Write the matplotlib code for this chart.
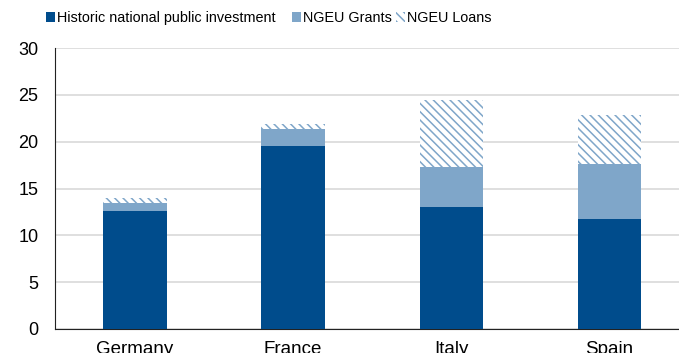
import matplotlib
matplotlib.use("Agg")
import matplotlib.pyplot as plt
from matplotlib.patches import Patch

plt.rcParams['font.family'] = ['Liberation Sans', 'DejaVu Sans']
plt.rcParams['hatch.linewidth'] = 1.1

countries = ['Germany', 'France', 'Italy', 'Spain']
historic = [12.6, 19.5, 13.0, 11.7]
grants = [0.9, 1.8, 4.3, 5.9]
loans = [0.5, 0.6, 7.1, 5.3]

dark = '#004c8c'
light = '#7fa6c9'
hatch = '\\' * 4

fig = plt.figure(figsize=(6.79, 3.53), dpi=100)
ax = fig.add_axes([0.081, 0.068, 0.919, 0.796])

x = range(len(countries))
w = 0.4
ax.bar(x, historic, w, color=dark, zorder=3)
ax.bar(x, grants, w, bottom=historic, color=light, zorder=3)
bottom2 = [h + g for h, g in zip(historic, grants)]
ax.bar(x, loans, w, bottom=bottom2, color='white', edgecolor=light,
       hatch=hatch, linewidth=0, zorder=3)

ax.set_ylim(0, 30)
ax.set_xlim(-0.505, 3.44)
ax.set_yticks(range(0, 31, 5))
ax.set_xticks(list(x))
ax.set_xticklabels(countries)
ax.tick_params(axis='both', length=0)
ax.tick_params(axis='x', labelsize=13.5, pad=9)
ax.tick_params(axis='y', labelsize=13, pad=12)
ax.grid(axis='y', color='#d9d9d9', linewidth=1.2, zorder=0)
for s in ['top', 'right']:
    ax.spines[s].set_visible(False)
ax.spines['left'].set_color('#222222')
ax.spines['bottom'].set_color('#222222')

handles = [
    Patch(facecolor=dark, label='Historic national public investment   '),
    Patch(facecolor=light, label='NGEU Grants'),
    Patch(facecolor='white', edgecolor=light, hatch=hatch, linewidth=0, label='NGEU Loans'),
]
fig.legend(handles=handles, loc='center left', bbox_to_anchor=(0.068, 0.948), ncol=3,
           frameon=False, fontsize=10.4, handlelength=0.6, handleheight=0.65,
           handletextpad=0.15, columnspacing=0.3, borderpad=0, borderaxespad=0)

fig.savefig('out.png', dpi=100)
